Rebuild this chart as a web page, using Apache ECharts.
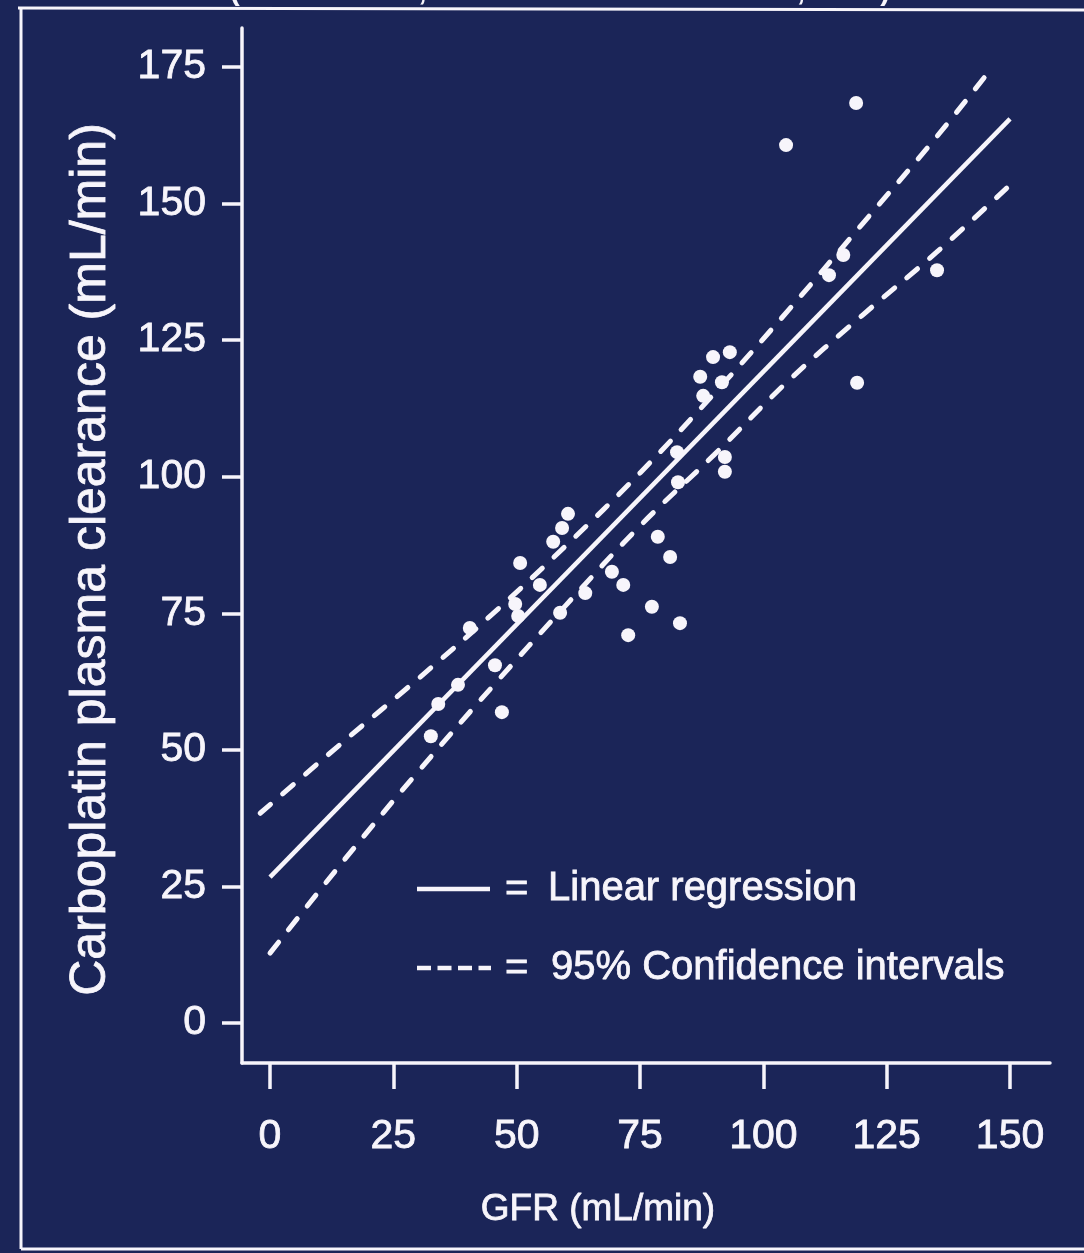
<!DOCTYPE html>
<html>
<head>
<meta charset="utf-8">
<script src="https://cdn.jsdelivr.net/npm/echarts@6/dist/echarts.min.js"></script>
<style>
html,body{margin:0;padding:0;background:#1b2558;}
#chart{width:1084px;height:1253px;}
</style>
</head>
<body>
<div id="chart"></div>
<script>
// ---- data ----
const xTicks = [0, 25, 50, 75, 100, 125, 150];
const yTicks = [0, 25, 50, 75, 100, 125, 150, 175];

const gfr = [118.8, 104.6, 135.2, 116.2, 113.3, 119.0, 89.8, 93.2, 87.2, 91.6, 87.8, 92.2, 92.2, 82.5, 82.7,
  78.6, 81.1, 71.6, 77.4, 83.1, 72.6, 69.3, 63.9, 58.8, 60.4, 59.2, 57.4, 50.7, 54.7, 49.7, 50.3, 40.5,
  38.1, 34.1, 47.0, 45.6, 32.6];
const clearance = [168.4, 160.7, 137.8, 140.6, 136.9, 117.2, 121.9, 122.8, 118.3, 117.3, 114.8, 103.6, 100.9, 104.5, 99.0,
  89.0, 85.3, 80.2, 76.2, 73.2, 71.0, 82.6, 78.7, 75.1, 93.2, 90.6, 88.1, 84.2, 80.2, 76.7, 74.5, 72.3,
  61.9, 58.4, 56.9, 65.5, 52.5];

const regX = [0, 150];
const regY = [26.7, 165.5];

const upperX = [-2, 15, 30, 45, 60, 75, 90, 105, 120, 135, 145.5];
const upperY = [38.4, 51.6, 63.0, 74.8, 87.4, 100.7, 115.2, 130.4, 146.2, 162.1, 173.9];

const lowerX = [0, 15, 30, 45, 60, 75, 90, 105, 120, 135, 150];
const lowerY = [12.8, 29.8, 46.0, 61.5, 76.5, 91.0, 104.0, 117.5, 129.5, 141.0, 153.4];

const titleText = '(Calvert et al., J Clin Oncol 7: 1748-1756, 1989)';
const xName = 'GFR (mL/min)';
const yName = 'Carboplatin plasma clearance (mL/min)';
const legendSolid = 'Linear regression';
const legendDashed = '95% Confidence intervals';

// ---- chart ----
const FG = '#f7f5fb';
const FONT = '"Liberation Sans", Arial, Helvetica, sans-serif';
const pairs = (xs, ys) => xs.map((x, i) => [x, ys[i]]);
const thick = {textBorderColor: FG, textBorderWidth: 0.8};

const chart = echarts.init(document.getElementById('chart'), null, {renderer: 'canvas'});
chart.setOption({
  animation: false,
  backgroundColor: '#1b2558',
  grid: {left: 242, right: 34, top: 28, bottom: 190, containLabel: false},
  xAxis: {
    type: 'value',
    min: -5.68, max: 158.1,
    splitLine: {show: false},
    axisLine: {show: true, onZero: false, lineStyle: {color: FG, width: 3.5}},
    axisTick: {show: true, inside: false, length: 26, customValues: xTicks, lineStyle: {color: FG, width: 3.5}},
    axisLabel: Object.assign({customValues: xTicks, color: FG, fontSize: 41, fontFamily: FONT, margin: 53}, thick),
    name: xName,
    nameLocation: 'middle',
    nameGap: 128,
    nameTextStyle: Object.assign({color: FG, fontSize: 37, fontFamily: FONT, padding: [0, 96, 0, 0]}, thick)
  },
  yAxis: {
    type: 'value',
    min: -7.32, max: 182.14,
    splitLine: {show: false},
    axisLine: {show: true, onZero: false, lineStyle: {color: FG, width: 3.5}},
    axisTick: {show: true, inside: false, length: 20, customValues: yTicks, lineStyle: {color: FG, width: 3.5}},
    axisLabel: Object.assign({customValues: yTicks, color: FG, fontSize: 41, fontFamily: FONT, margin: 36}, thick),
    name: yName,
    nameLocation: 'middle',
    nameRotate: 90,
    nameGap: 126,
    nameTextStyle: Object.assign({color: FG, fontSize: 50, fontFamily: FONT, padding: [0, 28, 0, 0]}, thick)
  },
  series: [
    {
      type: 'line', name: legendSolid, data: pairs(regX, regY),
      showSymbol: false, symbol: 'none',
      lineStyle: {color: FG, width: 4.5}, z: 3
    },
    {
      type: 'line', name: 'upper', data: pairs(upperX, upperY),
      showSymbol: false, symbol: 'none', smooth: 0.4,
      lineStyle: {color: FG, width: 5, type: [14, 16], cap: 'round'}, z: 3
    },
    {
      type: 'line', name: 'lower', data: pairs(lowerX, lowerY),
      showSymbol: false, symbol: 'none', smooth: 0.4,
      lineStyle: {color: FG, width: 5, type: [14, 16], cap: 'round'}, z: 3
    },
    {
      type: 'scatter', name: 'patients', data: pairs(gfr, clearance),
      symbol: 'circle', symbolSize: 14,
      itemStyle: {color: FG, opacity: 1}, z: 4
    }
  ],
  graphic: [
    // slide frame
    {type: 'line', shape: {x1: 18, y1: 8, x2: 1084, y2: 10}, style: {stroke: FG, lineWidth: 3}, z: 10},
    {type: 'line', shape: {x1: 21, y1: 8, x2: 21, y2: 1249}, style: {stroke: FG, lineWidth: 3}, z: 10},
    {type: 'line', shape: {x1: 21, y1: 1249, x2: 1084, y2: 1249}, style: {stroke: FG, lineWidth: 3}, z: 10},
    // title (cut off at the top in the reference)
    {type: 'text', x: 560, y: 7, z: 10,
      style: {text: titleText, fill: FG, font: 'bold 30px ' + FONT, textAlign: 'center', textVerticalAlign: 'bottom'}},
    // legend
    {type: 'line', shape: {x1: 417, y1: 889, x2: 490, y2: 889}, style: {stroke: FG, lineWidth: 4.5}, z: 10},
    {type: 'text', x: 505, y: 890, z: 10,
      style: {text: '=', fill: FG, font: '40px ' + FONT, textVerticalAlign: 'middle', stroke: FG, lineWidth: 0.8}},
    {type: 'text', x: 548, y: 889, z: 10,
      style: {text: legendSolid, fill: FG, font: '40px ' + FONT, textVerticalAlign: 'middle', stroke: FG, lineWidth: 0.8}},
    {type: 'line', shape: {x1: 417, y1: 968, x2: 491, y2: 968}, style: {stroke: FG, lineWidth: 4.5, lineDash: [14, 6.5]}, z: 10},
    {type: 'text', x: 505, y: 969, z: 10,
      style: {text: '=', fill: FG, font: '40px ' + FONT, textVerticalAlign: 'middle', stroke: FG, lineWidth: 0.8}},
    {type: 'text', x: 551, y: 968, z: 10,
      style: {text: legendDashed, fill: FG, font: '40px ' + FONT, textVerticalAlign: 'middle', stroke: FG, lineWidth: 0.8}}
  ]
});
</script>
</body>
</html>
